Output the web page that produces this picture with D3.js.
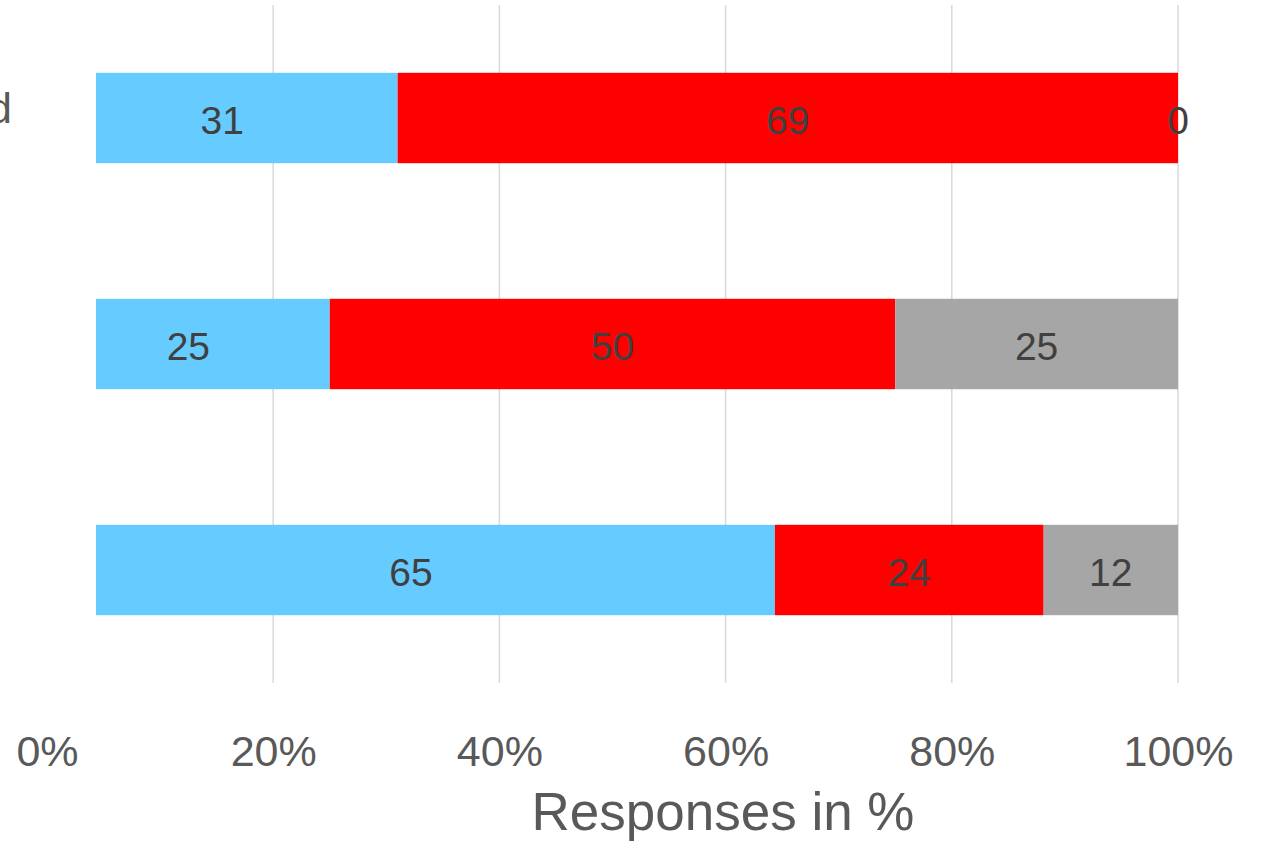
<!DOCTYPE html>
<html>
<head>
<meta charset="utf-8">
<script src="https://cdn.jsdelivr.net/npm/d3@7"></script>
<style>
  html, body { margin: 0; padding: 0; background: #ffffff; }
  svg { display: block; font-family: "Liberation Sans", Arial, sans-serif; }
</style>
</head>
<body>
<svg id="chart" width="1268" height="843"></svg>
<script>
// Response categories (one bar each, top to bottom)
const categories = ["Improved", "Same", "Worse"];
// Answer groups stacked inside each bar
const seriesKeys = ["Yes", "No", "Unsure"];
const seriesColors = ["#66CCFF", "#FF0000", "#A6A6A6"];
// Shares per category, in %
const yesValues = [31, 25, 65];
const noValues = [69, 50, 24];
const unsureValues = [0, 25, 12];
// Axis ticks
const tickValues = [0, 0.2, 0.4, 0.6, 0.8, 1.0];
const axisTitle = "Responses in %";

const rows = categories.map((c, i) => ({
  category: c,
  Yes: yesValues[i],
  No: noValues[i],
  Unsure: unsureValues[i]
}));

const svg = d3.select("#chart");
const width = 1268, height = 843;

// Scale starts left of the visible plot area; the plot is clipped at its left edge
const plotLeft = 96;
const x = d3.scaleLinear().domain([0, 1]).range([47, 1178]);
const y = d3.scaleBand().domain(categories).range([5, 683])
  .paddingInner(0.6).paddingOuter(0.3);

const stack = d3.stack().keys(seriesKeys).offset(d3.stackOffsetExpand);
const layers = stack(rows);
const color = d3.scaleOrdinal().domain(seriesKeys).range(seriesColors);

svg.append("defs").append("clipPath").attr("id", "plot-clip")
  .append("rect")
  .attr("x", plotLeft).attr("y", 0)
  .attr("width", width - plotLeft).attr("height", 690);

const plot = svg.append("g").attr("clip-path", "url(#plot-clip)");

// Vertical gridlines
plot.append("g").selectAll("line")
  .data(tickValues)
  .join("line")
  .attr("x1", d => x(d)).attr("x2", d => x(d))
  .attr("y1", 5).attr("y2", 683)
  .attr("stroke", "#D9D9D9")
  .attr("stroke-width", 1.5);

// Stacked bars
plot.append("g").selectAll("g")
  .data(layers)
  .join("g")
  .attr("fill", d => color(d.key))
  .selectAll("rect")
  .data(d => d)
  .join("rect")
  .attr("x", d => x(d[0]))
  .attr("y", d => y(d.data.category))
  .attr("width", d => x(d[1]) - x(d[0]))
  .attr("height", y.bandwidth());

// Value labels centred in each segment
const labelGroup = svg.append("g");
layers.forEach(layer => {
  labelGroup.selectAll(null)
    .data(layer)
    .join("text")
    .attr("x", d => (x(d[0]) + x(d[1])) / 2)
    .attr("y", d => y(d.data.category) + y.bandwidth() / 2)
    .attr("dy", "0.4em")
    .attr("text-anchor", "middle")
    .attr("font-size", 39)
    .attr("fill", "#404040")
    .text(d => d3.format("d")(d.data[layer.key]));
});

// X axis tick labels
const xAxis = d3.axisBottom(x)
  .tickValues(tickValues)
  .tickFormat(d3.format(".0%"))
  .tickSize(0)
  .tickPadding(0);
const axisG = svg.append("g").attr("transform", "translate(0,720)").call(xAxis);
axisG.select(".domain").remove();
axisG.selectAll("text")
  .attr("font-size", 43)
  .attr("font-family", "\"Liberation Sans\", Arial, sans-serif")
  .attr("fill", "#595959")
  .attr("dy", "1.08em");

// Axis title
svg.append("text")
  .attr("x", 723)
  .attr("y", 830)
  .attr("text-anchor", "middle")
  .attr("font-size", 53)
  .attr("fill", "#595959")
  .text(axisTitle);

// Category labels, left-aligned in a column that ends at the canvas edge
const catLabels = svg.append("g").selectAll("text")
  .data(categories)
  .join("text")
  .attr("y", d => y(d) + y.bandwidth() / 2 + 5)
  .attr("font-size", 43)
  .attr("fill", "#595959")
  .text(d => d);
const longest = d3.max(catLabels.nodes(), n => n.getComputedTextLength());
catLabels.attr("x", 12 - longest);
</script>
</body>
</html>
